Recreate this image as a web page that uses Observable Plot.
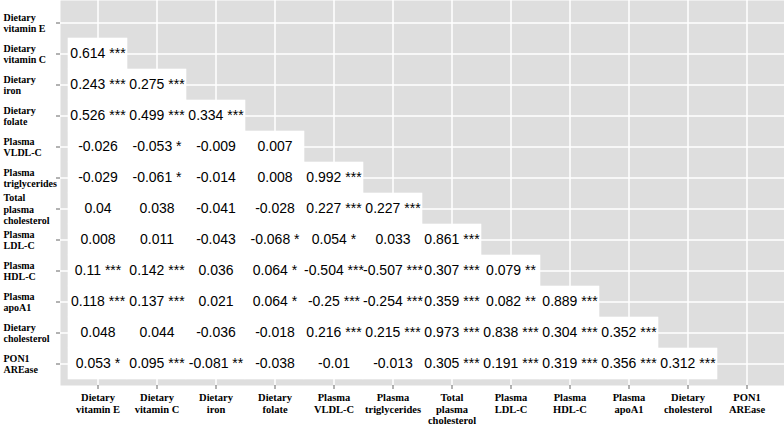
<!DOCTYPE html>
<html><head><meta charset="utf-8">
<script src="https://cdn.jsdelivr.net/npm/d3@7"></script>
<script src="https://cdn.jsdelivr.net/npm/@observablehq/plot@0.6"></script>
<style>body{margin:0;background:#fff;} svg{display:block;}</style>
</head><body><div id="chart"></div>
<script>
const variables = [
  "Dietary\nvitamin E", "Dietary\nvitamin C", "Dietary\niron", "Dietary\nfolate",
  "Plasma\nVLDL-C", "Plasma\ntriglycerides", "Total\nplasma\ncholesterol", "Plasma\nLDL-C",
  "Plasma\nHDL-C", "Plasma\napoA1", "Dietary\ncholesterol", "PON1\nAREase"
];
// lower-triangle correlation values, one array per row (row i vs columns 0..i-1)
const rowValues = [
  [],
  [0.614],
  [0.243, 0.275],
  [0.526, 0.499, 0.334],
  [-0.026, -0.053, -0.009, 0.007],
  [-0.029, -0.061, -0.014, 0.008, 0.992],
  [0.04, 0.038, -0.041, -0.028, 0.227, 0.227],
  [0.008, 0.011, -0.043, -0.068, 0.054, 0.033, 0.861],
  [0.11, 0.142, 0.036, 0.064, -0.504, -0.507, 0.307, 0.079],
  [0.118, 0.137, 0.021, 0.064, -0.25, -0.254, 0.359, 0.082, 0.889],
  [0.048, 0.044, -0.036, -0.018, 0.216, 0.215, 0.973, 0.838, 0.304, 0.352],
  [0.053, 0.095, -0.081, -0.038, -0.01, -0.013, 0.305, 0.191, 0.319, 0.356, 0.312]
];
const rowStars = [
  [],
  ["***"],
  ["***", "***"],
  ["***", "***", "***"],
  ["", "*", "", ""],
  ["", "*", "", "", "***"],
  ["", "", "", "", "***", "***"],
  ["", "", "", "*", "*", "", "***"],
  ["***", "***", "", "*", "***", "***", "***", "**"],
  ["***", "***", "", "*", "***", "***", "***", "**", "***"],
  ["", "", "", "", "***", "***", "***", "***", "***", "***"],
  ["*", "***", "**", "", "", "", "***", "***", "***", "***", "***"]
];

const cells = [];
rowValues.forEach((vals, i) => vals.forEach((v, j) => {
  const s = rowStars[i][j];
  cells.push({col: variables[j], row: variables[i], label: String(v) + (s ? " " + s : "")});
}));

const serif = "'Liberation Serif', 'Times New Roman', serif";
const sans = "'Liberation Sans', Arial, Helvetica, sans-serif";

const chart = Plot.plot({
  width: 784,
  height: 427,
  marginLeft: 60,
  marginRight: 0,
  marginTop: 0,
  marginBottom: 42,
  style: {background: "white", overflow: "visible"},
  x: {type: "band", domain: variables, paddingInner: 0, paddingOuter: 0.1, axis: null},
  y: {type: "band", domain: variables, paddingInner: 0, paddingOuter: 0.1, axis: null},
  marks: [
    Plot.frame({fill: "#dedede", stroke: null}),
    Plot.gridX({stroke: "white", strokeOpacity: 1, strokeWidth: 1.5}),
    Plot.gridY({stroke: "white", strokeOpacity: 1, strokeWidth: 1.5}),
    Plot.cell(cells, {x: "col", y: "row", fill: "white", stroke: "white", strokeWidth: 0.6, inset: 0}),
    Plot.text(cells, {x: "col", y: "row", text: "label", fontSize: 14, fontFamily: sans, fill: "black"}),
    Plot.axisX({tickSize: 4, tickFormat: () => "", label: null, stroke: "#666"}),
    Plot.axisY({tickSize: 4, tickFormat: () => "", label: null, stroke: "#666"}),
    Plot.text(variables, {x: d => d, text: d => d, frameAnchor: "bottom", lineAnchor: "top", dy: 8,
      fontSize: 10.5, lineHeight: 1.07, fontWeight: "bold", fontFamily: serif, fill: "black"}),
    Plot.text(variables, {y: d => d, text: d => d, frameAnchor: "left", textAnchor: "start", lineAnchor: "middle", dx: -57,
      fontSize: 10, lineHeight: 1.15, fontWeight: "bold", fontFamily: serif, fill: "black"})
  ]
});
document.getElementById("chart").appendChild(chart);
</script>
</body></html>
